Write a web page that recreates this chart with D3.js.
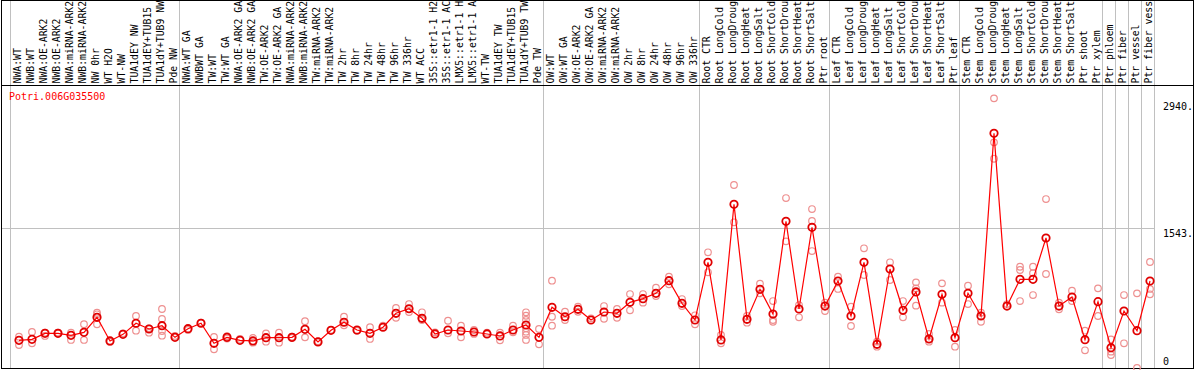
<!DOCTYPE html>
<html lang="en">
<head>
  <meta charset="utf-8">
  <title>Potri.006G035500 expression</title>
  <script src="https://d3js.org/d3.v7.min.js"></script>
  <style>
    body { margin: 0; padding: 0; background: #fff; }
    svg { display: block; }
    text { font-family: "DejaVu Sans Mono", "Liberation Mono", monospace; font-size: 10px; }
    .hdr text { font-size: 9.8px; }
  </style>
</head>
<body>
  <div id="chart"></div>
  <script>
    // sample labels as they show in the header (the header box cuts long names)
    const samples = [
      "NWA:WT", "NWB:WT", "NWA:OE-ARK2", "NWB:OE-ARK2", "NWA:miRNA-ARK2", "NWB:miRNA-ARK2",
      "NW 0hr", "WT H2O", "WT-NW", "TUA1dEY NW", "TUA1dEY+TUB15", "TUA1dY+TUB9 NW", "Pde NW",
      "NWA:WT GA", "NWBWT GA", "TW:WT", "TW:WT GA", "NWA:OE-ARK2 GA", "NWB:OE-ARK2 GA",
      "TW:OE-ARK2", "TW:OE-ARK2 GA", "NWA:miRNA-ARK2", "NWB:miRNA-ARK2", "TW:miRNA-ARK2",
      "TW:miRNA-ARK2", "TW 2hr", "TW 8hr", "TW 24hr", "TW 48hr", "TW 96hr", "TW 336hr",
      "WT ACC", "35S::etr1-1 H2", "35S::etr1-1 AC", "LMX5::etr1-1 H", "LMX5::etr1-1 A",
      "WT-TW", "TUA1dEY TW", "TUA1dEY+TUB15", "TUA1dY+TUB9 TW", "Pde TW",
      "OW:WT", "OW:WT GA", "OW:OE-ARK2", "OW:OE-ARK2 GA", "OW:miRNA-ARK2", "OW:miRNA-ARK2",
      "OW 2hr", "OW 8hr", "OW 24hr", "OW 48hr", "OW 96hr", "OW 336hr",
      "Root CTR", "Root LongCold", "Root LongDroug", "Root LongHeat", "Root LongSalt",
      "Root ShortCold", "Root ShortDrou", "Root ShortHeat", "Root ShortSalt", "Ptr root",
      "Leaf CTR", "Leaf LongCold", "Leaf LongDroug", "Leaf LongHeat", "Leaf LongSalt",
      "Leaf ShortCold", "Leaf ShortDrou", "Leaf ShortHeat", "Leaf ShortSalt", "Ptr leaf",
      "Stem CTR", "Stem LongCold", "Stem LongDroug", "Stem LongHeat", "Stem LongSalt",
      "Stem ShortCold", "Stem ShortDrou", "Stem ShortHeat", "Stem ShortSalt", "Ptr shoot",
      "Ptr xylem", "Ptr phloem", "Ptr fiber", "Ptr vessel", "Ptr fiber vess"
    ];

    // number of samples in each experiment block (separated by grey lines)
    const groupSizes = [13, 28, 12, 10, 10, 11, 1, 1, 1, 1];

    // mean expression per sample
    const means = [
      305, 316, 382, 382, 360, 393, 559, 298, 371, 493, 430, 466, 338,
      433, 493, 272, 338, 305, 298, 334, 334, 338, 426, 287, 415, 504, 419, 382, 449,
      603, 653, 548, 375, 419, 408, 397, 375, 353, 419, 474, 338,
      669, 565, 647, 529, 617, 603, 724, 764, 823, 962, 713, 529,
      1165, 309, 1804, 537, 867, 595, 1617, 650, 1550, 683,
      959, 573, 1165, 261, 1091, 636, 838, 320, 812, 334,
      823, 573, 2586, 683, 977, 977, 1433, 683, 782, 312, 731,
      224, 628, 411, 959
    ];

    // individual replicate values per sample
    const replicates = [
      [345, 253], [397, 272], [389, 353], [380, 390], [389, 309], [482, 309], [609, 592, 482],
      [287], [382], [573, 411], [437, 389], [650, 540, 408, 356], [353],
      [420], [500], [342, 206], [350, 325], [320], [331, 279], [382, 290], [389, 279],
      [345, 330], [515, 338], [294], [420], [565, 471], [410], [449, 320], [466],
      [661, 554], [705, 617], [614, 529], [393], [521, 382], [466, 338], [419, 375], [389],
      [389, 305], [466, 393], [614, 576, 529, 437, 400, 364, 309], [430, 261],
      [962, 565, 466], [620, 529], [676, 620], [548], [683, 543], [650, 554], [815, 636],
      [815, 720], [885, 793], [1006, 922], [760, 683], [581, 482],
      [1275, 1055], [364, 272], [2017, 1606], [573, 499], [929, 823], [738, 529, 510],
      [1873, 1396], [694, 559], [1752, 1620, 1289], [720, 628],
      [1006, 871], [676, 463], [1319, 1025], [290, 235], [1165, 970], [738, 559],
      [944, 878, 687], [375, 290], [933, 720], [419, 235],
      [907, 705], [609, 510], [2972, 2487, 2306], [705], [1116, 1080, 738], [1116, 1044, 804],
      [1862, 1036], [720, 647], [852, 738], [411, 195], [878, 573],
      [316, 180, 143], [804, 272], [823, 0], [1168, 871, 812]
    ];

    const geneId = "Potri.006G035500";
    const gridValues = [1543];
    const tickValues = [2940, 1543, 0];
    const tickLabels = ["2940.", "1543.", "0"];

    const W = 1194, H = 370;
    const headerH = 85;
    const plotLeft = 11, plotRight = 1155, plotBottom = 368;

    const svg = d3.select("#chart").append("svg")
      .attr("width", W)
      .attr("height", H);

    const x = d3.scaleBand()
      .domain(d3.range(samples.length))
      .range([plotLeft, plotRight])
      .padding(0);

    const y = d3.scaleLinear()
      .domain([0, 3119])
      .range([plotBottom, headerH]);

    const px = i => x(i) + 8;

    // group separators
    const sepIdx = [0];
    groupSizes.reduce((acc, n) => { sepIdx.push(acc + n); return acc + n; }, 0);
    svg.append("g")
      .selectAll("line")
      .data(sepIdx)
      .join("line")
      .attr("x1", d => Math.round(d < samples.length ? x(d) : plotRight) - 0.5)
      .attr("x2", d => Math.round(d < samples.length ? x(d) : plotRight) - 0.5)
      .attr("y1", 0)
      .attr("y2", plotBottom)
      .attr("stroke", "#c0c0c0");

    // horizontal grid
    svg.append("g")
      .selectAll("line")
      .data(gridValues)
      .join("line")
      .attr("x1", 2)
      .attr("x2", plotRight)
      .attr("y1", d => Math.round(y(d)) + 0.5)
      .attr("y2", d => Math.round(y(d)) + 0.5)
      .attr("stroke", "#c0c0c0");

    // header labels
    svg.append("g")
      .attr("class", "hdr")
      .selectAll("text")
      .data(samples)
      .join("text")
      .attr("transform", (d, i) => `translate(${x(i) + 10},83.5) rotate(-90)`)
      .attr("fill", "#000")
      .text(d => d);

    // frame
    svg.append("rect")
      .attr("x", 1.5).attr("y", 0.5)
      .attr("width", W - 2).attr("height", plotBottom)
      .attr("fill", "none").attr("stroke", "#000");
    svg.append("line")
      .attr("x1", 1).attr("x2", W)
      .attr("y1", headerH + 0.5).attr("y2", headerH + 0.5)
      .attr("stroke", "#000");

    // right-hand value labels
    svg.append("g")
      .selectAll("text")
      .data(tickValues)
      .join("text")
      .attr("x", plotRight + 8)
      .attr("y", d => d === 0 ? y(d) - 3 : y(d) + 9)
      .attr("fill", "#000")
      .text((d, i) => tickLabels[i]);

    // gene id
    svg.append("text")
      .attr("x", 9)
      .attr("y", headerH + 15)
      .attr("fill", "#ff0000")
      .text(geneId);

    // replicate circles
    const repPts = [];
    replicates.forEach((arr, i) => arr.forEach(v => repPts.push({ i, v })));
    svg.append("g")
      .selectAll("circle")
      .data(repPts)
      .join("circle")
      .attr("cx", d => px(d.i))
      .attr("cy", d => y(d.v))
      .attr("r", 3.3)
      .attr("fill", "none")
      .attr("stroke", "#ee9090")
      .attr("stroke-width", 1.2);

    // mean line
    const line = d3.line()
      .x((d, i) => px(i))
      .y(d => y(d));
    svg.append("path")
      .datum(means)
      .attr("d", line)
      .attr("fill", "none")
      .attr("stroke", "#ff0000")
      .attr("stroke-width", 1.2);

    // mean circles
    svg.append("g")
      .selectAll("circle")
      .data(means)
      .join("circle")
      .attr("cx", (d, i) => px(i))
      .attr("cy", d => y(d))
      .attr("r", 3.7)
      .attr("fill", "none")
      .attr("stroke", "#e00000")
      .attr("stroke-width", 1.8);
  </script>
</body>
</html>
